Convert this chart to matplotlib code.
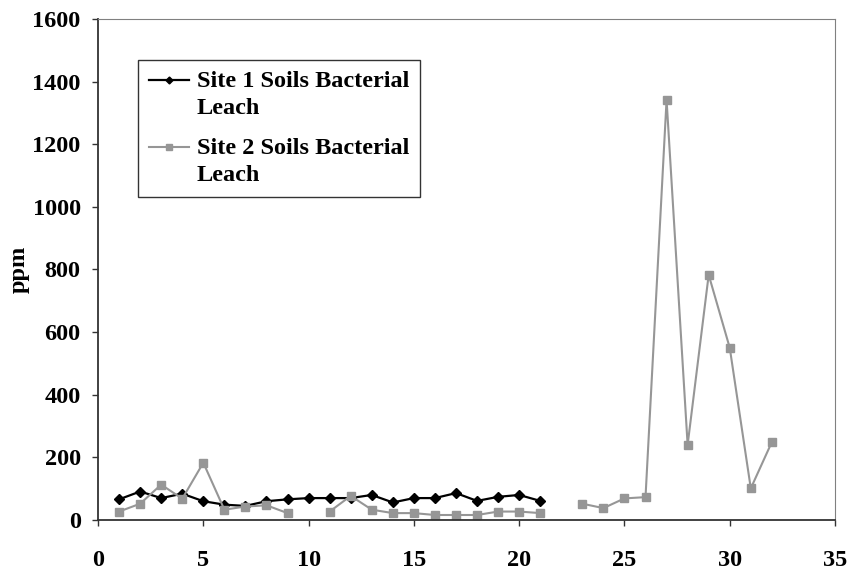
import numpy as np
import matplotlib
matplotlib.use("Agg")
import matplotlib.pyplot as plt
from matplotlib.legend_handler import HandlerLine2D

# sample number
x1 = list(range(1, 22))
x2 = list(range(1, 33))

# ppm values
site1 = [66, 91, 70, 84, 60, 49, 45, 60, 66, 70, 70, 70, 80,
         56, 70, 70, 86, 61, 74, 80, 61]
site2 = [27, 52, 113, 68, 183, 33, 43, 47, 22, np.nan, 27, 77, 33,
         22, 22, 16, 16, 16, 27, 27, 22, np.nan,
         52, 38, 69, 73, 1342, 240, 783, 550, 101, 249]

labels = ["Site 1 Soils Bacterial\nLeach", "Site 2 Soils Bacterial\nLeach"]
xticks = [0, 5, 10, 15, 20, 25, 30, 35]
yticks = [0, 200, 400, 600, 800, 1000, 1200, 1400, 1600]

GREY = "#969696"
FS = 17.5

plt.rcParams['font.family'] = ['Liberation Serif', 'DejaVu Serif']
plt.rcParams['font.weight'] = 'bold'


class FirstLineHandler(HandlerLine2D):
    # put the legend key next to the first line of a two-line label
    def create_artists(self, legend, orig_handle, xdescent, ydescent,
                       width, height, fontsize, trans):
        arts = super().create_artists(legend, orig_handle, xdescent, ydescent,
                                      width, height, fontsize, trans)
        for a in arts:
            a.set_ydata(np.asarray(a.get_ydata()) + 0.6 * fontsize)
        return arts


fig = plt.figure(figsize=(8.48, 5.72), dpi=100)
ax = fig.add_axes([0.1156, 0.0909, 0.8691, 0.8759])

l1, = ax.plot(x1, site1, color="black", lw=1.6, marker="D", ms=5,
              label=labels[0])
l2, = ax.plot(x2, site2, color=GREY, lw=1.5, marker="s", ms=6,
              mec=GREY, label=labels[1])

ax.set_xlim(0, 35)
ax.set_ylim(0, 1600)
ax.set_xticks(xticks)
ax.set_yticks(yticks)
ax.tick_params(direction="out", length=4.5, width=1, labelsize=FS,
               top=False, right=False, color="#333333")
ax.tick_params(axis="x", pad=17)
ax.tick_params(axis="y", pad=8)
for lab in ax.get_xticklabels() + ax.get_yticklabels():
    lab.set_fontweight("bold")

ax.spines["left"].set_color("#333333")
ax.spines["bottom"].set_color("#333333")
ax.spines["left"].set_linewidth(1.3)
ax.spines["bottom"].set_linewidth(1.3)
ax.spines["top"].set_color("#808080")
ax.spines["right"].set_color("#808080")

ax.set_ylabel("ppm", fontsize=FS, fontweight="bold", labelpad=2)

leg = ax.legend(handles=[l1, l2], loc="upper left",
                bbox_to_anchor=(0.054, 0.918), borderaxespad=0,
                fontsize=FS, frameon=True, fancybox=False, markerscale=0.7,
                handlelength=1.65, handletextpad=0.33, labelspacing=0.75,
                borderpad=0.45,
                handler_map={l1: FirstLineHandler(), l2: FirstLineHandler()})
leg.get_frame().set_edgecolor("black")
leg.get_frame().set_linewidth(1.0)
for t in leg.get_texts():
    t.set_fontweight("bold")
    t.set_linespacing(1.4)

fig.savefig("out.png", dpi=100)
